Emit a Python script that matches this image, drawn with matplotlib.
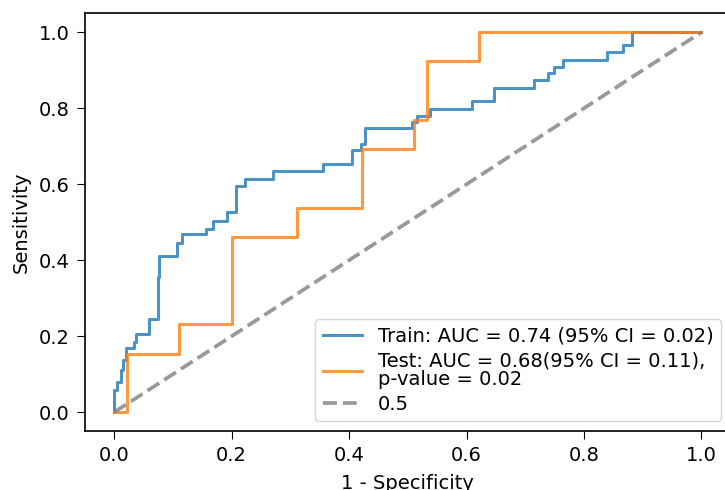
import matplotlib
matplotlib.use('Agg')
import matplotlib.pyplot as plt

# ROC data (step corners, where='post')
train_fpr = [0, 0, 0.005, 0.011, 0.015, 0.020, 0.033, 0.037, 0.060, 0.074, 0.077,
             0.107, 0.115, 0.157, 0.169, 0.192, 0.208, 0.223, 0.271, 0.355, 0.405,
             0.421, 0.427, 0.507, 0.516, 0.538, 0.609, 0.647, 0.715, 0.739, 0.749,
             0.765, 0.840, 0.867, 0.881, 1.0]
train_tpr = [0, 0.058, 0.080, 0.110, 0.137, 0.168, 0.185, 0.205, 0.244, 0.356, 0.410,
             0.446, 0.468, 0.483, 0.503, 0.526, 0.595, 0.615, 0.635, 0.652, 0.691,
             0.707, 0.747, 0.764, 0.779, 0.797, 0.819, 0.852, 0.874, 0.893, 0.909,
             0.928, 0.948, 0.966, 1.0, 1.0]

test_fpr = [0, 0.022, 0.111, 0.200, 0.311, 0.422, 0.511, 0.533, 0.622, 1.0]
test_tpr = [0, 0.154, 0.231, 0.462, 0.538, 0.692, 0.769, 0.923, 1.0, 1.0]

chance = [0, 1]

train_label = 'Train: AUC = 0.74 (95% CI = 0.02)'
test_label = 'Test: AUC = 0.68(95% CI = 0.11),\np-value = 0.02'

plt.rcParams['font.size'] = 14
plt.rcParams['xtick.major.size'] = 6
plt.rcParams['ytick.major.size'] = 6
plt.rcParams['xtick.major.pad'] = 5
plt.rcParams['ytick.major.pad'] = 5
plt.rcParams['axes.linewidth'] = 1.2

fig = plt.figure(figsize=(7.25, 4.9), dpi=100)
# axes run a little past the right edge, as in the cropped reference
ax = fig.add_axes([0.117, 0.12, 0.891, 0.853])

ax.step(train_fpr, train_tpr, where='post', lw=2.2, alpha=0.8, label=train_label)
ax.step(test_fpr, test_tpr, where='post', lw=2.2, alpha=0.8, label=test_label)
ax.plot(chance, chance, '--', color='grey', lw=2.7, alpha=0.8, label='0.5')

ax.set_xlabel('1 - Specificity', labelpad=6)
ax.set_ylabel('Sensitivity', labelpad=6)
ax.set_xticks([0, 0.2, 0.4, 0.6, 0.8, 1.0])
ax.set_yticks([0, 0.2, 0.4, 0.6, 0.8, 1.0])

leg = ax.legend(loc='lower right', labelspacing=0.3, handlelength=2.0)
for t in leg.get_texts():
    t.set_linespacing(0.95)

fig.savefig('out.png', dpi=100)
